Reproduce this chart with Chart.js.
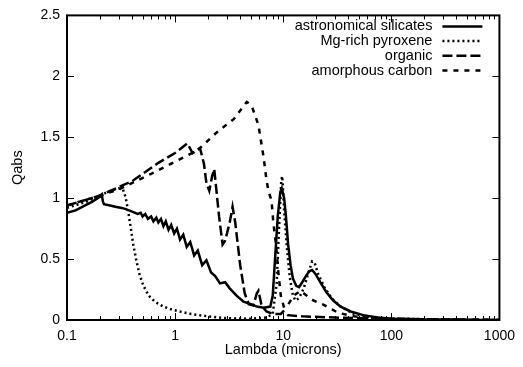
<!DOCTYPE html>
<html><head><meta charset="utf-8">
<script src="https://cdn.jsdelivr.net/npm/chart.js@4/dist/chart.umd.min.js"></script>
<style>html,body{margin:0;padding:0;background:#fff}</style>
</head><body>
<canvas id="c" width="523" height="367"></canvas>
<script>
// ---------- data ----------
const seriesLabels = ['astronomical silicates', 'Mg-rich pyroxene', 'organic', 'amorphous carbon'];
const xTickValues = [0.1, 1, 10, 100, 1000];
const yTickValues = [0, 0.5, 1, 1.5, 2, 2.5];
const xTitle = 'Lambda (microns)';
const yTitle = 'Qabs';

const silLambda = [0.1, 0.12, 0.14, 0.17, 0.2, 0.21, 0.215, 0.22, 0.25, 0.28, 0.32, 0.35, 0.4, 0.45, 0.48, 0.5, 0.53, 0.56, 0.6, 0.63, 0.67, 0.7, 0.74, 0.78, 0.82, 0.87, 0.92, 0.98, 1.04, 1.11, 1.19, 1.28, 1.38, 1.5, 1.62, 1.78, 1.95, 2.15, 2.35, 2.6, 2.9, 3.2, 3.7, 4.3, 5.0, 5.7, 6.6, 7.6, 8.0, 8.4, 8.9, 9.4, 9.7, 10.2, 10.6, 11.1, 11.7, 12.3, 13.2, 14, 15, 16.2, 17.4, 18.5, 19.8, 22, 25, 29, 34, 42, 55, 75, 100, 200, 500, 1000];
const silQ      = [0.88, 0.9, 0.93, 0.97, 1.01, 1.03, 0.97, 0.95, 0.94, 0.93, 0.92, 0.91, 0.89, 0.87, 0.88, 0.85, 0.87, 0.83, 0.85, 0.81, 0.84, 0.80, 0.83, 0.77, 0.81, 0.74, 0.78, 0.71, 0.75, 0.66, 0.70, 0.60, 0.64, 0.53, 0.57, 0.45, 0.49, 0.39, 0.36, 0.30, 0.31, 0.26, 0.20, 0.15, 0.13, 0.11, 0.10, 0.11, 0.2, 0.5, 0.85, 1.05, 1.08, 1.0, 0.85, 0.62, 0.45, 0.34, 0.28, 0.27, 0.31, 0.36, 0.40, 0.41, 0.38, 0.31, 0.23, 0.16, 0.11, 0.07, 0.04, 0.02, 0.01, 0.004, 0.001, 0];

const pyrLambda = [0.1, 0.15, 0.2, 0.25, 0.3, 0.33, 0.35, 0.37, 0.39, 0.41, 0.44, 0.47, 0.51, 0.57, 0.65, 0.78, 0.9, 1.1, 1.4, 2, 3, 5, 7, 8, 8.7, 9.2, 9.6, 9.8, 10.2, 10.8, 11.5, 12.3, 13, 14, 15.5, 17, 18.5, 19.5, 21, 24, 28, 34, 45, 70, 100, 1000];
const pyrQ      = [0.92, 0.97, 1.02, 1.06, 1.08, 1.07, 1.0, 0.88, 0.75, 0.62, 0.48, 0.37, 0.28, 0.20, 0.15, 0.11, 0.09, 0.07, 0.05, 0.03, 0.015, 0.01, 0.02, 0.05, 0.3, 0.8, 1.15, 1.18, 0.9, 0.6, 0.35, 0.2, 0.16, 0.18, 0.26, 0.38, 0.48, 0.47, 0.38, 0.27, 0.18, 0.11, 0.05, 0.02, 0.01, 0];

const orgLambda = [0.1, 0.2, 0.4, 0.7, 1.0, 1.3, 1.45, 1.7, 1.85, 1.95, 2.07, 2.2, 2.3, 2.4, 2.55, 2.75, 2.9, 3.2, 3.4, 3.6, 4.0, 4.4, 4.8, 5.3, 5.7, 5.9, 6.3, 7, 8, 9.5, 10, 11, 15, 30, 100, 1000];
const orgQ      = [0.94, 1.02, 1.14, 1.29, 1.37, 1.45, 1.37, 1.41, 1.28, 1.12, 1.06, 1.18, 1.24, 1.08, 0.85, 0.62, 0.65, 0.80, 0.93, 0.80, 0.45, 0.22, 0.13, 0.12, 0.22, 0.24, 0.12, 0.07, 0.05, 0.05, 0.07, 0.04, 0.03, 0.02, 0.01, 0];

const carLambda = [0.1, 0.2, 0.3, 0.6, 1.0, 1.6, 2.5, 3.5, 4.6, 5.1, 5.9, 6.6, 7.0, 7.3, 7.8, 8.1, 8.6, 9.0, 9.5, 10.2, 11, 12.5, 14.5, 17, 19, 23, 28, 32, 45, 80, 1000];
const carQ      = [0.94, 1.02, 1.07, 1.2, 1.3, 1.39, 1.55, 1.65, 1.79, 1.76, 1.6, 1.33, 1.15, 1.06, 0.98, 0.8, 0.61, 0.4, 0.2, 0.1, 0.12, 0.2, 0.24, 0.19, 0.16, 0.13, 0.09, 0.06, 0.03, 0.01, 0];

// ---------- styling ----------
const FONT = "'Liberation Sans', Arial, Helvetica, sans-serif";
const dashes = [[], [2, 3], [10, 4], [5, 6]];
const widths = [2.5, 2.5, 2.5, 2.5];

function pts(xs, ys) { return xs.map((x, i) => ({x: x, y: ys[i]})); }
const allX = [silLambda, pyrLambda, orgLambda, carLambda];
const allY = [silQ, pyrQ, orgQ, carQ];

const datasets = seriesLabels.map((lab, i) => ({
  label: lab,
  data: pts(allX[i], allY[i]),
  borderColor: '#000',
  borderWidth: widths[i],
  borderDash: dashes[i],
  pointRadius: 0,
  tension: 0,
  fill: false
}));

const frameTicks = {
  id: 'frameTicks',
  afterDatasetsDraw(chart) {
    const {ctx, chartArea: a, scales: {x, y}} = chart;
    ctx.save();
    ctx.setLineDash([]);
    ctx.strokeStyle = '#000';
    ctx.lineWidth = 1;
    const seg = (x1, y1, x2, y2) => { ctx.beginPath(); ctx.moveTo(x1, y1); ctx.lineTo(x2, y2); ctx.stroke(); };
    xTickValues.forEach(base => {
      for (let m = 1; m <= 9; m++) {
        const v = base * m;
        if (v > x.max * 1.0001) break;
        const px = Math.round(x.getPixelForValue(v)) + 0.5;
        const len = m === 1 ? 7 : 4;
        seg(px, a.bottom, px, a.bottom - len);
        seg(px, a.top, px, a.top + len);
      }
    });
    yTickValues.forEach(v => {
      const py = Math.round(y.getPixelForValue(v)) + 0.5;
      seg(a.left, py, a.left + 7, py);
      seg(a.right, py, a.right - 7, py);
    });
    ctx.lineWidth = 2;
    ctx.strokeRect(a.left, a.top, a.right - a.left, a.bottom - a.top);
    ctx.restore();
  }
};

const sideLegend = {
  id: 'sideLegend',
  afterDraw(chart) {
    const {ctx, chartArea: a} = chart;
    ctx.save();
    ctx.font = '14.5px ' + FONT;
    ctx.fillStyle = '#000';
    ctx.strokeStyle = '#000';
    ctx.textAlign = 'right';
    ctx.textBaseline = 'middle';
    chart.data.datasets.forEach((ds, i) => {
      const yy = a.top + 11 + i * 14.7;
      ctx.fillText(ds.label, a.right - 67, yy);
      ctx.setLineDash(ds.borderDash || []);
      ctx.lineWidth = ds.borderWidth;
      ctx.beginPath();
      ctx.moveTo(a.right - 57, yy);
      ctx.lineTo(a.right - 17, yy);
      ctx.stroke();
    });
    ctx.restore();
  }
};

new Chart(document.getElementById('c'), {
  type: 'line',
  data: {datasets: datasets},
  options: {
    responsive: false,
    animation: false,
    layout: {padding: {left: 0, right: 16, top: 13, bottom: 0}},
    plugins: {legend: {display: false}, tooltip: {enabled: false}},
    scales: {
      x: {
        type: 'logarithmic',
        min: 0.1, max: 1000,
        afterBuildTicks(s) { s.ticks = xTickValues.map(v => ({value: v})); },
        afterFit(s) { s.height = 47; },
        grid: {display: false, drawTicks: false},
        border: {display: false},
        ticks: {
          autoSkip: false, maxRotation: 0, padding: 8,
          color: '#000', font: {family: FONT, size: 14},
          callback: (v) => String(v)
        },
        title: {display: true, text: xTitle, color: '#000', font: {family: FONT, size: 14.5}, padding: {top: 0, bottom: 8}}
      },
      y: {
        type: 'linear',
        min: 0, max: 2.5,
        afterBuildTicks(s) { s.ticks = yTickValues.map(v => ({value: v})); },
        afterFit(s) { s.width = 67; },
        grid: {display: false, drawTicks: false},
        border: {display: false},
        ticks: {padding: 7, color: '#000', font: {family: FONT, size: 14}, callback: (v) => String(v)},
        title: {display: true, text: yTitle, color: '#000', font: {family: FONT, size: 14.5}, padding: {top: 9, bottom: 0}}
      }
    }
  },
  plugins: [frameTicks, sideLegend]
});
</script>
</body></html>
